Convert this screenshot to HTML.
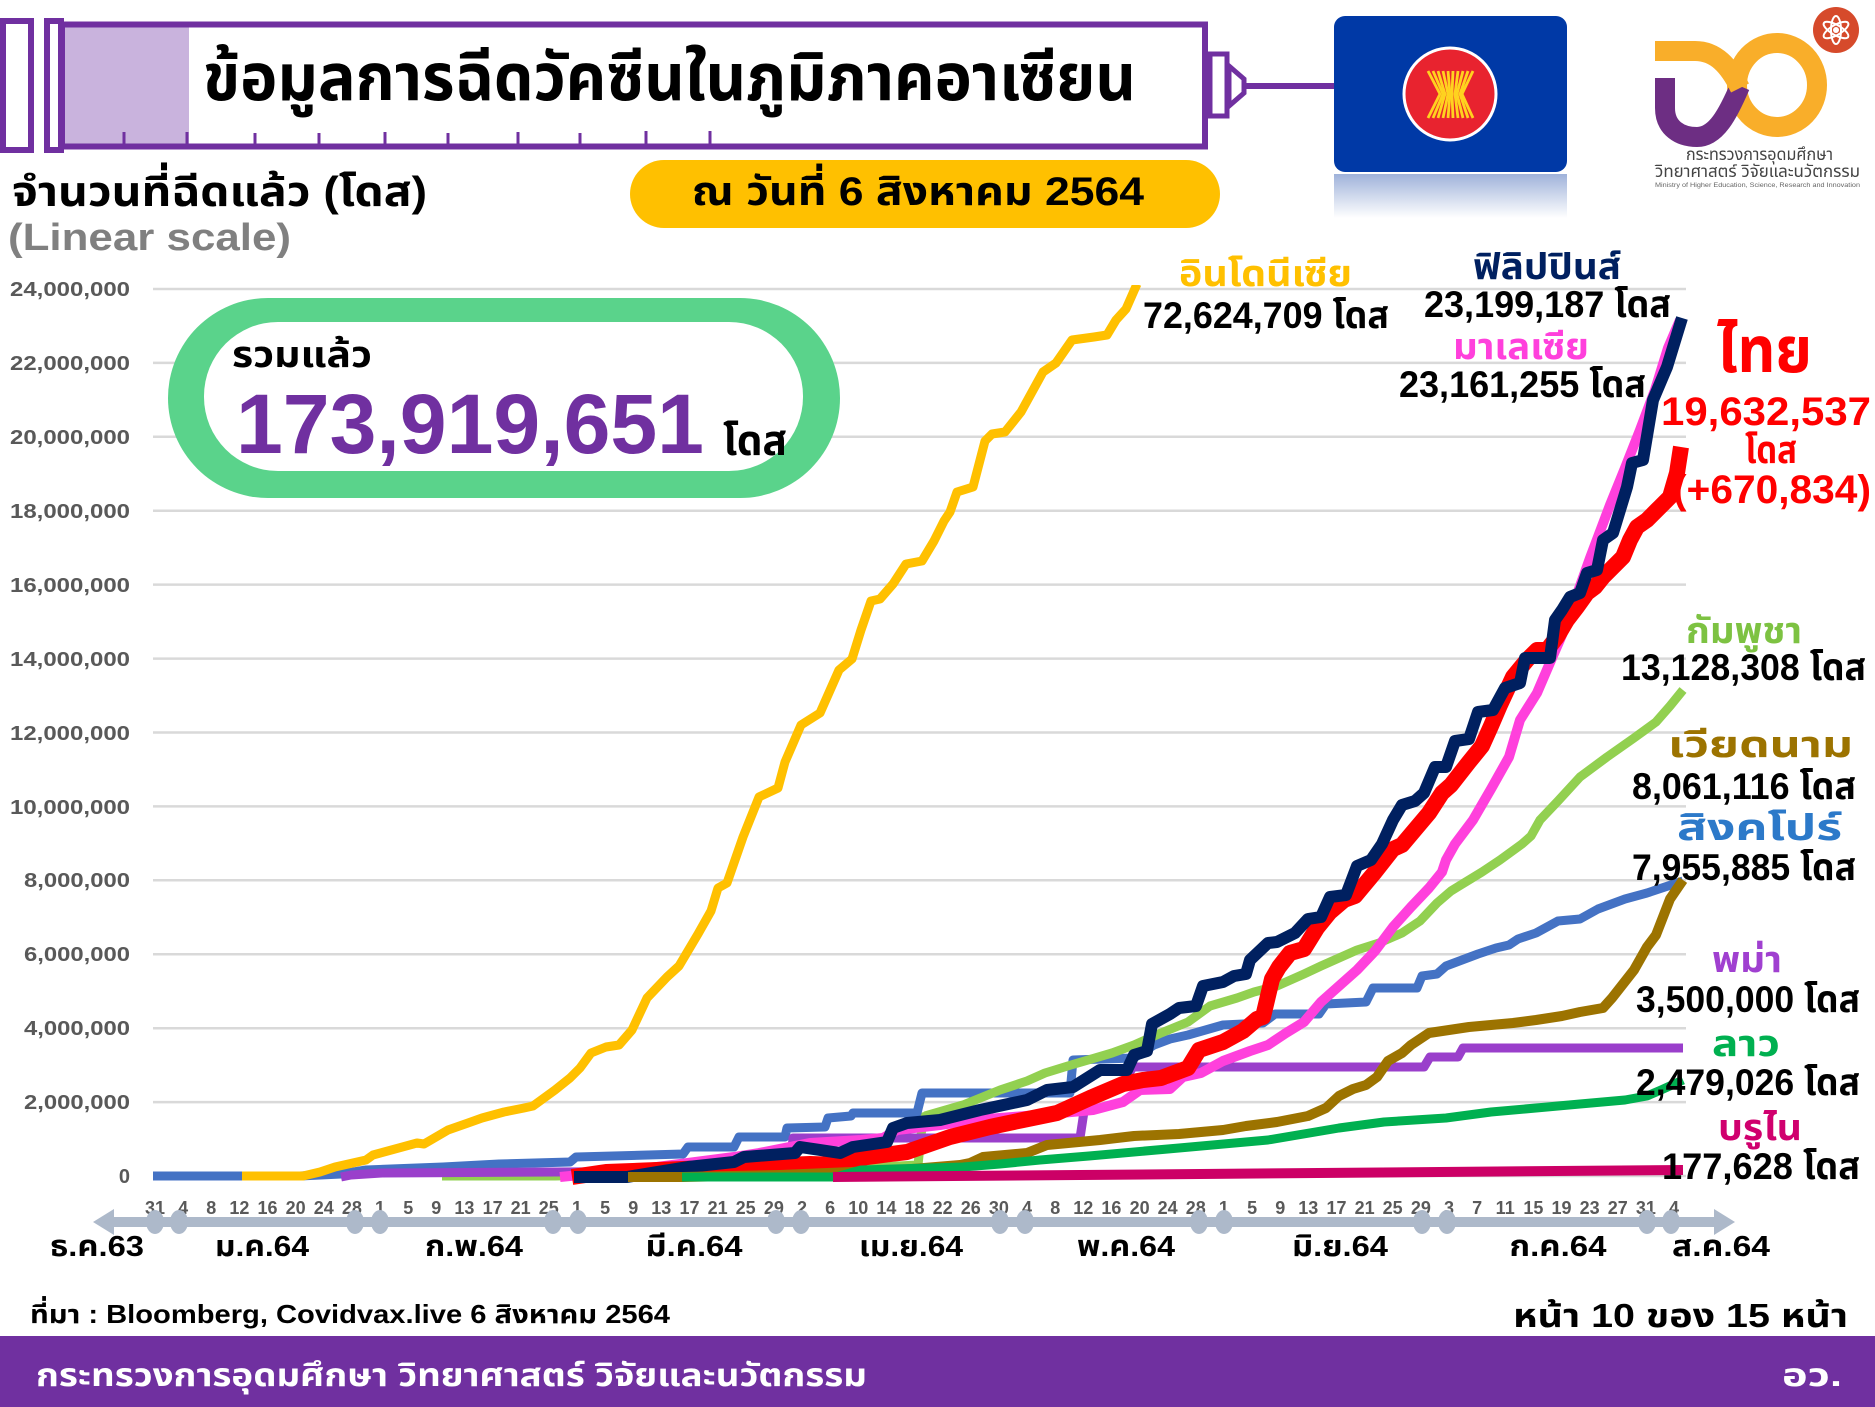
<!DOCTYPE html>
<html><head><meta charset="utf-8"><style>
html,body{margin:0;padding:0;background:#fff;}
svg{display:block;}
text{font-family:"Liberation Sans","Noto Sans Thai","Noto Sans Thai UI","Loma","Garuda","Tlwg Typo","Waree",sans-serif;font-weight:bold;}
.yl{font-size:20px;fill:#595959;}
.xt{font-size:18px;fill:#595959;font-weight:normal;}
.mo{font-size:29px;fill:#000;}
.num{font-size:37px;fill:#000;}
</style></head><body>
<svg width="1875" height="1407" viewBox="0 0 1875 1407" xmlns="http://www.w3.org/2000/svg">
<defs>
<linearGradient id="refl" x1="0" y1="0" x2="0" y2="1">
<stop offset="0" stop-color="#9fb2da"/><stop offset="1" stop-color="#ffffff"/>
</linearGradient>
<clipPath id="plot"><rect x="140" y="285" width="1560" height="910"/></clipPath>
</defs>

<!-- syringe header -->
<rect x="3" y="21" width="28" height="129" fill="#fff" stroke="#7030A0" stroke-width="6"/>
<rect x="47" y="21" width="14" height="129" fill="#fff" stroke="#7030A0" stroke-width="6"/>
<rect x="62" y="24.5" width="1143" height="122" fill="#fff" stroke="#7030A0" stroke-width="6"/>
<rect x="65" y="27.5" width="124" height="116" fill="#C9B3DD"/>
<g stroke="#7030A0" stroke-width="3">
<line x1="124" y1="132" x2="124" y2="146"/><line x1="187" y1="132" x2="187" y2="146"/>
<line x1="255" y1="133" x2="255" y2="146"/><line x1="319" y1="133" x2="319" y2="146"/>
<line x1="385" y1="132" x2="385" y2="146"/><line x1="448" y1="133" x2="448" y2="146"/>
<line x1="518" y1="132" x2="518" y2="146"/><line x1="580" y1="133" x2="580" y2="146"/>
<line x1="646" y1="131" x2="646" y2="146"/><line x1="710" y1="131" x2="710" y2="146"/>
</g>
<rect x="1210" y="54" width="17" height="62" fill="#fff" stroke="#7030A0" stroke-width="5"/>
<polygon points="1229,66 1244,79 1244,93 1229,106" fill="#fff" stroke="#7030A0" stroke-width="5"/>
<line x1="1244" y1="86" x2="1336" y2="86" stroke="#7030A0" stroke-width="6"/>
<text x="203" y="100" font-size="66" fill="#000" textLength="933" lengthAdjust="spacingAndGlyphs">ข้อมูลการฉีดวัคซีนในภูมิภาคอาเซียน</text>

<!-- ASEAN flag -->
<rect x="1334" y="174" width="233" height="44" fill="url(#refl)"/>
<rect x="1334" y="16" width="233" height="156" rx="11" fill="#0039A6"/>
<circle cx="1450" cy="94" r="46" fill="#E8232F" stroke="#fff" stroke-width="3"/>
<g stroke="#FFD21F" stroke-width="2.8" fill="none">
<path d="M1428,71 L1440,94 L1428,118"/><path d="M1433,71 L1443,94 L1433,118"/>
<path d="M1438,71 L1445,94 L1438,118"/><path d="M1443,71 L1448,94 L1443,118"/>
<path d="M1448,71 L1450,94 L1448,118"/><path d="M1453,71 L1452,94 L1453,118"/>
<path d="M1458,71 L1455,94 L1458,118"/><path d="M1463,71 L1457,94 L1463,118"/>
<path d="M1468,71 L1460,94 L1468,118"/><path d="M1473,71 L1462,94 L1473,118"/>
</g>

<!-- MHESI logo -->
<ellipse cx="1777" cy="85" rx="40" ry="42" fill="none" stroke="#F9AE2A" stroke-width="20"/>
<path d="M1665,78 L1665,108 C1665,128 1680,137 1697,137 C1716,137 1728,114 1740,86" fill="none" stroke="#6D2E83" stroke-width="20"/>
<path d="M1655,51 L1695,51 C1716,51 1729,66 1740,88" fill="none" stroke="#F9AE2A" stroke-width="20"/>
<circle cx="1836" cy="30" r="23" fill="#D64A2B"/>
<g fill="none" stroke="#fff" stroke-width="2">
<ellipse cx="1836" cy="30" rx="5" ry="14"/>
<ellipse cx="1836" cy="30" rx="5" ry="14" transform="rotate(60 1836 30)"/>
<ellipse cx="1836" cy="30" rx="5" ry="14" transform="rotate(-60 1836 30)"/>
</g>
<circle cx="1836" cy="30" r="3" fill="#fff"/>
<text x="1686" y="160" font-size="17" fill="#444" textLength="147" lengthAdjust="spacingAndGlyphs" style="font-weight:normal">กระทรวงการอุดมศึกษา</text>
<text x="1655" y="177" font-size="17" fill="#444" textLength="205" lengthAdjust="spacingAndGlyphs" style="font-weight:normal">วิทยาศาสตร์ วิจัยและนวัตกรรม</text>
<text x="1655" y="187" font-size="6" fill="#666" textLength="205" lengthAdjust="spacingAndGlyphs" style="font-weight:normal">Ministry of Higher Education, Science, Research and Innovation</text>

<!-- subtitles -->
<text x="12" y="206" font-size="42" fill="#000" textLength="415" lengthAdjust="spacingAndGlyphs">จำนวนที่ฉีดแล้ว (โดส)</text>
<text x="8" y="250" font-size="38" fill="#808080" textLength="283" lengthAdjust="spacingAndGlyphs">(Linear scale)</text>
<rect x="630" y="160" width="590" height="68" rx="34" fill="#FFC000"/>
<text x="692" y="205" font-size="40" fill="#000" textLength="452" lengthAdjust="spacingAndGlyphs">ณ วันที่ 6 สิงหาคม 2564</text>

<!-- gridlines -->
<g stroke="#D9D9D9" stroke-width="2.5">
<line x1="153" y1="289" x2="1686" y2="289"/><line x1="153" y1="362.9" x2="1686" y2="362.9"/>
<line x1="153" y1="436.8" x2="1686" y2="436.8"/><line x1="153" y1="510.7" x2="1686" y2="510.7"/>
<line x1="153" y1="584.6" x2="1686" y2="584.6"/><line x1="153" y1="658.6" x2="1686" y2="658.6"/>
<line x1="153" y1="732.5" x2="1686" y2="732.5"/><line x1="153" y1="806.4" x2="1686" y2="806.4"/>
<line x1="153" y1="880.3" x2="1686" y2="880.3"/><line x1="153" y1="954.2" x2="1686" y2="954.2"/>
<line x1="153" y1="1028.2" x2="1686" y2="1028.2"/><line x1="153" y1="1102.1" x2="1686" y2="1102.1"/>
<line x1="153" y1="1176" x2="1686" y2="1176"/>
</g>
<!-- y labels -->
<g class="yl" text-anchor="end">
<text x="130" y="296" textLength="120" lengthAdjust="spacingAndGlyphs">24,000,000</text>
<text x="130" y="370" textLength="120" lengthAdjust="spacingAndGlyphs">22,000,000</text>
<text x="130" y="444" textLength="120" lengthAdjust="spacingAndGlyphs">20,000,000</text>
<text x="130" y="518" textLength="120" lengthAdjust="spacingAndGlyphs">18,000,000</text>
<text x="130" y="592" textLength="120" lengthAdjust="spacingAndGlyphs">16,000,000</text>
<text x="130" y="666" textLength="120" lengthAdjust="spacingAndGlyphs">14,000,000</text>
<text x="130" y="740" textLength="120" lengthAdjust="spacingAndGlyphs">12,000,000</text>
<text x="130" y="814" textLength="120" lengthAdjust="spacingAndGlyphs">10,000,000</text>
<text x="130" y="887" textLength="106" lengthAdjust="spacingAndGlyphs">8,000,000</text>
<text x="130" y="961" textLength="106" lengthAdjust="spacingAndGlyphs">6,000,000</text>
<text x="130" y="1035" textLength="106" lengthAdjust="spacingAndGlyphs">4,000,000</text>
<text x="130" y="1109" textLength="106" lengthAdjust="spacingAndGlyphs">2,000,000</text>
<text x="130" y="1183">0</text>
</g>

<!-- total pill -->
<rect x="168" y="298" width="672" height="200" rx="100" fill="#5AD38B"/>
<rect x="204" y="322" width="599" height="149" rx="74" fill="#fff"/>
<text x="232" y="367" font-size="36" fill="#000" textLength="140" lengthAdjust="spacingAndGlyphs">รวมแล้ว</text>
<text x="236" y="453" font-size="84" fill="#7030A0" textLength="468" lengthAdjust="spacingAndGlyphs">173,919,651</text>
<text x="723" y="455" font-size="42" fill="#000" textLength="64" lengthAdjust="spacingAndGlyphs">โดส</text>

<!-- series -->
<g fill="none" stroke-linejoin="round" stroke-linecap="butt" clip-path="url(#plot)">
<polyline stroke="#92D050" stroke-width="9" points="442,1176 555,1176 700,1173 861,1168 918,1165 923,1117 930,1115"/>
<polyline stroke="#4472C4" stroke-width="9" points="153,1176 300,1176 341,1174 366,1170 443,1167 499,1164 570,1162 576,1157 683,1154 688,1147 734,1147 739,1137 785,1137 787,1128 825,1127 828,1118 851,1116 853,1113 917,1113 922,1093 1070,1093 1073,1060 1134,1058 1154,1045 1170,1039 1188,1035 1223,1025 1263,1023 1275,1014 1319,1014 1326,1004 1366,1002 1373,988 1417,988 1422,976 1437,974 1446,966 1478,954 1496,948 1509,945 1518,939 1536,933 1558,921 1580,919 1598,909 1625,899 1647,893 1683,881"/>
<polyline stroke="#9A3FCB" stroke-width="9" points="341,1177 351,1175 382,1173 555,1172 790,1171 793,1138 1080,1138 1085,1105 1110,1090 1123,1083 1133,1067 1424,1067 1430,1057 1458,1057 1463,1048 1683,1048"/>
<polyline stroke="#92D050" stroke-width="9" points="925,1116 963,1105 1000,1090 1027,1081 1045,1073 1071,1065 1112,1053 1134,1045 1161,1033 1188,1022 1210,1006 1237,998 1254,992 1277,986 1304,974 1321,966 1339,958 1357,950 1379,943 1402,933 1420,921 1437,903 1451,891 1464,883 1482,872 1500,860 1522,844 1531,836 1540,820 1558,801 1580,777 1607,757 1634,738 1656,722 1670,706 1683,690"/>
<polyline stroke="#FF40DC" stroke-width="10" points="560,1177 600,1173 657,1167 734,1157 759,1153 810,1143 861,1140 883,1138 897,1130 940,1125 973,1120 1000,1118 1050,1114 1093,1110 1123,1102 1140,1090 1170,1089 1183,1077 1201,1073 1223,1061 1250,1051 1268,1045 1286,1033 1304,1022 1321,1002 1339,986 1357,970 1375,951 1393,927 1411,907 1429,888 1442,872 1446,860 1455,844 1473,820 1491,789 1509,757 1520,720 1537,693 1552,658 1562,635 1575,600 1590,558 1610,505 1625,468 1640,430 1655,390 1668,348 1680,320"/>
<polyline stroke="#FF0000" stroke-width="16" points="572,1177 606,1172 657,1170 734,1167 810,1164 840,1165 867,1157 907,1152 950,1137 990,1127 1023,1120 1057,1113 1090,1098 1123,1084 1143,1080 1161,1078 1188,1068 1199,1050 1223,1042 1243,1031 1257,1019 1263,1017 1272,979 1279,967 1290,953 1304,949 1317,928 1330,912 1344,900 1355,896 1375,872 1393,849 1402,845 1429,813 1442,793 1451,785 1469,762 1482,746 1491,726 1500,705 1513,677 1527,660 1537,650 1547,650 1557,637 1567,620 1577,607 1587,593 1595,587 1603,577 1613,567 1623,557 1630,540 1637,527 1647,520 1660,507 1670,497 1677,473 1681,447"/>
<polyline stroke="#002060" stroke-width="12" points="574,1177 627,1177 657,1172 688,1167 734,1162 744,1157 795,1153 800,1147 840,1153 853,1147 887,1142 893,1128 907,1123 940,1120 980,1110 1027,1100 1047,1090 1073,1087 1100,1070 1127,1070 1134,1055 1147,1051 1152,1024 1170,1014 1179,1008 1196,1006 1203,986 1223,982 1234,976 1246,974 1250,960 1268,943 1277,942 1295,933 1308,919 1321,917 1330,897 1346,895 1357,866 1371,860 1382,844 1393,820 1402,805 1415,801 1424,793 1435,767 1446,767 1455,741 1469,739 1478,712 1493,710 1505,688 1520,683 1525,658 1550,658 1555,620 1562,610 1570,597 1580,593 1587,573 1597,570 1603,540 1613,533 1627,487 1632,463 1643,460 1653,400 1667,367 1682,318"/>
<polyline stroke="#9C7300" stroke-width="10" points="628,1177 683,1177 780,1175 900,1170 960,1165 970,1163 983,1157 1027,1153 1047,1145 1100,1140 1134,1136 1179,1134 1223,1130 1246,1126 1277,1122 1308,1116 1326,1108 1339,1096 1353,1089 1366,1085 1377,1077 1388,1061 1402,1053 1411,1045 1429,1033 1469,1027 1513,1023 1536,1020 1562,1016 1580,1012 1603,1008 1612,998 1634,970 1647,947 1656,935 1670,899 1683,880"/>
<polyline stroke="#00B050" stroke-width="9" points="682,1177 836,1177 861,1170 963,1167 1000,1164 1040,1160 1089,1156 1179,1148 1268,1140 1339,1128 1384,1122 1446,1118 1491,1112 1536,1108 1580,1104 1625,1100 1647,1096 1661,1090 1683,1080"/>
<polyline stroke="#CC0066" stroke-width="10" points="833,1177 1683,1170"/>
<polyline stroke="#FFC000" stroke-width="9" points="242,1176 303,1176 320,1172 335,1167 366,1160 373,1155 417,1143 424,1144 448,1130 468,1123 482,1118 504,1112 524,1108 533,1106 555,1090 570,1078 580,1068 591,1053 606,1047 619,1045 632,1030 647,998 667,977 679,966 698,934 711,911 718,888 727,883 743,837 759,797 778,788 785,762 801,725 820,713 839,670 852,659 861,630 871,601 880,599 893,584 906,564 922,561 934,541 944,521 950,512 957,492 973,487 985,441 992,434 1005,432 1021,412 1043,372 1056,363 1072,340 1094,337 1107,335 1116,320 1126,309 1137,284"/>
</g>

<!-- series labels -->
<text x="1179" y="286" font-size="36" fill="#FFC000" textLength="173" lengthAdjust="spacingAndGlyphs">อินโดนีเซีย</text>
<text x="1143" y="328" class="num" textLength="246" lengthAdjust="spacingAndGlyphs">72,624,709 โดส</text>
<text x="1473" y="279" font-size="36" fill="#002060" textLength="148" lengthAdjust="spacingAndGlyphs">ฟิลิปปินส์</text>
<text x="1424" y="317" class="num" textLength="247" lengthAdjust="spacingAndGlyphs">23,199,187 โดส</text>
<text x="1453" y="359" font-size="36" fill="#FF40DC" textLength="136" lengthAdjust="spacingAndGlyphs">มาเลเซีย</text>
<text x="1399" y="397" class="num" textLength="247" lengthAdjust="spacingAndGlyphs">23,161,255 โดส</text>
<text x="1717" y="372" font-size="64" fill="#FF0000" textLength="95" lengthAdjust="spacingAndGlyphs">ไทย</text>
<text x="1661" y="425" font-size="40" fill="#FF0000" textLength="210" lengthAdjust="spacingAndGlyphs">19,632,537</text>
<text x="1745" y="463" font-size="38" fill="#FF0000" textLength="52" lengthAdjust="spacingAndGlyphs">โดส</text>
<text x="1673" y="503" font-size="40" fill="#FF0000" textLength="198" lengthAdjust="spacingAndGlyphs">(+670,834)</text>
<text x="1686" y="643" font-size="36" fill="#7DC242" textLength="116" lengthAdjust="spacingAndGlyphs">กัมพูชา</text>
<text x="1621" y="680" class="num" textLength="245" lengthAdjust="spacingAndGlyphs">13,128,308 โดส</text>
<text x="1668" y="757" font-size="36" fill="#9C7300" textLength="185" lengthAdjust="spacingAndGlyphs">เวียดนาม</text>
<text x="1632" y="799" class="num" textLength="224" lengthAdjust="spacingAndGlyphs">8,061,116 โดส</text>
<text x="1677" y="840" font-size="36" fill="#2C79C9" textLength="165" lengthAdjust="spacingAndGlyphs">สิงคโปร์</text>
<text x="1632" y="880" class="num" textLength="224" lengthAdjust="spacingAndGlyphs">7,955,885 โดส</text>
<text x="1712" y="972" font-size="36" fill="#A040D0" textLength="70" lengthAdjust="spacingAndGlyphs">พม่า</text>
<text x="1636" y="1012" class="num" textLength="224" lengthAdjust="spacingAndGlyphs">3,500,000 โดส</text>
<text x="1712" y="1056" font-size="36" fill="#00B050" textLength="68" lengthAdjust="spacingAndGlyphs">ลาว</text>
<text x="1636" y="1095" class="num" textLength="224" lengthAdjust="spacingAndGlyphs">2,479,026 โดส</text>
<text x="1718" y="1140" font-size="36" fill="#D0006E" textLength="84" lengthAdjust="spacingAndGlyphs">บรูไน</text>
<text x="1662" y="1179" class="num" textLength="198" lengthAdjust="spacingAndGlyphs">177,628 โดส</text>

<!-- x tick labels -->
<g class="xt" text-anchor="middle">
<text x="155" y="1214">31</text><text x="183.1" y="1214">4</text><text x="211.3" y="1214">8</text><text x="239.4" y="1214">12</text><text x="267.5" y="1214">16</text><text x="295.7" y="1214">20</text><text x="323.8" y="1214">24</text><text x="351.9" y="1214">28</text>
<text x="380" y="1214">1</text><text x="408.2" y="1214">5</text><text x="436.3" y="1214">9</text><text x="464.4" y="1214">13</text><text x="492.6" y="1214">17</text><text x="520.7" y="1214">21</text><text x="548.8" y="1214">25</text>
<text x="577" y="1214">1</text><text x="605.1" y="1214">5</text><text x="633.2" y="1214">9</text><text x="661.3" y="1214">13</text><text x="689.5" y="1214">17</text><text x="717.6" y="1214">21</text><text x="745.7" y="1214">25</text><text x="773.9" y="1214">29</text>
<text x="802" y="1214">2</text><text x="830.1" y="1214">6</text><text x="858.3" y="1214">10</text><text x="886.4" y="1214">14</text><text x="914.5" y="1214">18</text><text x="942.6" y="1214">22</text><text x="970.8" y="1214">26</text><text x="998.9" y="1214">30</text>
<text x="1027" y="1214">4</text><text x="1055.2" y="1214">8</text><text x="1083.3" y="1214">12</text><text x="1111.4" y="1214">16</text><text x="1139.6" y="1214">20</text><text x="1167.7" y="1214">24</text><text x="1195.8" y="1214">28</text>
<text x="1223.9" y="1214">1</text><text x="1252.1" y="1214">5</text><text x="1280.2" y="1214">9</text><text x="1308.3" y="1214">13</text><text x="1336.5" y="1214">17</text><text x="1364.6" y="1214">21</text><text x="1392.7" y="1214">25</text><text x="1420.9" y="1214">29</text>
<text x="1449" y="1214">3</text><text x="1477.1" y="1214">7</text><text x="1505.2" y="1214">11</text><text x="1533.4" y="1214">15</text><text x="1561.5" y="1214">19</text><text x="1589.6" y="1214">23</text><text x="1617.8" y="1214">27</text><text x="1645.9" y="1214">31</text>
<text x="1674" y="1214">4</text>
</g>

<!-- arrow axis -->
<g fill="#ADB9CA">
<rect x="108" y="1217" width="1612" height="10"/>
<polygon points="93,1222 114,1209 114,1235"/>
<polygon points="1735,1222 1714,1209 1714,1235"/>
<ellipse cx="155" cy="1222" rx="9" ry="12"/><ellipse cx="179" cy="1222" rx="9" ry="12"/>
<ellipse cx="355" cy="1222" rx="9" ry="12"/><ellipse cx="380" cy="1222" rx="9" ry="12"/>
<ellipse cx="553" cy="1222" rx="9" ry="12"/><ellipse cx="578" cy="1222" rx="9" ry="12"/>
<ellipse cx="776" cy="1222" rx="9" ry="12"/><ellipse cx="801" cy="1222" rx="9" ry="12"/>
<ellipse cx="1000" cy="1222" rx="9" ry="12"/><ellipse cx="1025" cy="1222" rx="9" ry="12"/>
<ellipse cx="1199" cy="1222" rx="9" ry="12"/><ellipse cx="1224" cy="1222" rx="9" ry="12"/>
<ellipse cx="1422" cy="1222" rx="9" ry="12"/><ellipse cx="1447" cy="1222" rx="9" ry="12"/>
<ellipse cx="1647" cy="1222" rx="9" ry="12"/><ellipse cx="1671" cy="1222" rx="9" ry="12"/>
</g>

<!-- month labels -->
<g class="mo" text-anchor="middle">
<text x="97" y="1256" textLength="94" lengthAdjust="spacingAndGlyphs">ธ.ค.63</text>
<text x="262" y="1256" textLength="94" lengthAdjust="spacingAndGlyphs">ม.ค.64</text>
<text x="474" y="1256" textLength="98" lengthAdjust="spacingAndGlyphs">ก.พ.64</text>
<text x="694" y="1256" textLength="97" lengthAdjust="spacingAndGlyphs">มี.ค.64</text>
<text x="911" y="1256" textLength="104" lengthAdjust="spacingAndGlyphs">เม.ย.64</text>
<text x="1126" y="1256" textLength="98" lengthAdjust="spacingAndGlyphs">พ.ค.64</text>
<text x="1340" y="1256" textLength="96" lengthAdjust="spacingAndGlyphs">มิ.ย.64</text>
<text x="1558" y="1256" textLength="97" lengthAdjust="spacingAndGlyphs">ก.ค.64</text>
<text x="1721" y="1256" textLength="98" lengthAdjust="spacingAndGlyphs">ส.ค.64</text>
</g>

<!-- source / page -->
<text x="30" y="1323" font-size="26" fill="#000" textLength="640" lengthAdjust="spacingAndGlyphs">ที่มา : Bloomberg, Covidvax.live 6 สิงหาคม 2564</text>
<text x="1513" y="1327" font-size="33" fill="#000" textLength="335" lengthAdjust="spacingAndGlyphs">หน้า 10 ของ 15 หน้า</text>

<!-- footer -->
<rect x="0" y="1336" width="1875" height="71" fill="#7030A0"/>
<text x="36" y="1386" font-size="32" fill="#fff" textLength="831" lengthAdjust="spacingAndGlyphs">กระทรวงการอุดมศึกษา วิทยาศาสตร์ วิจัยและนวัตกรรม</text>
<text x="1782" y="1386" font-size="32" fill="#fff" textLength="60" lengthAdjust="spacingAndGlyphs">อว.</text>
</svg>
</body></html>
